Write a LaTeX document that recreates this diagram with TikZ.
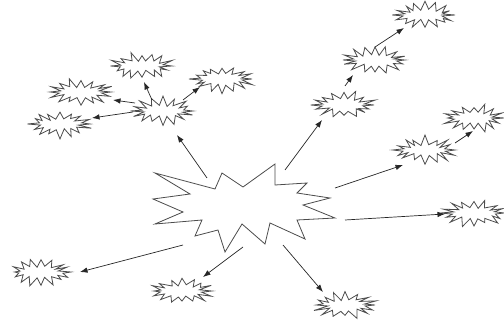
\documentclass[tikz,border=0pt]{standalone}
\usetikzlibrary{calc,arrows.meta}
\tikzset{
  burstline/.style={draw=black!70,line width=0.8pt,line join=miter,fill=white},
  spot/.style={inner sep=0pt,minimum size=0pt},
  arr/.style={draw=black!85,line width=0.7pt,-{Latex[length=7.5pt,width=5.5pt]}},
  pics/burst/.style={code={
    \pgfmathsetmacro{\dummy}{0}
    \pgfmathsetseed{#1}
    \draw[burstline] (0:30 and 12) \foreach \i in {1,...,31}{
      -- ({\i*360/32}:{ifthenelse(mod(\i,2)==0,30,20)*(1+0.13*rand)} and {ifthenelse(mod(\i,2)==0,12.5,5.5)*(1+0.2*rand)})
    } -- cycle;
  }}
}
\begin{document}
\begin{tikzpicture}[x=1pt,y=-1pt]
\useasboundingbox (0,0) rectangle (504,323);
% central burst
\draw[burstline] (155,173) -- (215,189) -- (222,173) -- (243,187) -- (275,164) -- (275,185)
  -- (307,183) -- (297,193) -- (330,198) -- (303,205) -- (335,218) -- (297,220)
  -- (305,239) -- (270,223) -- (265,244) -- (242,224) -- (225,252) -- (218,230)
  -- (195,236) -- (202,220) -- (155,224) -- (183,212) -- (153,199) -- (190,194) -- cycle;
\node[spot] (big) at (243,205) {};
% small bursts
\node[spot] (H)  at (163,111) {}; \pic at (H)  {burst=3};
\node[spot] (T1) at (142,66)  {}; \pic at (T1) {burst=5};
\node[spot] (R1) at (222,79)  {}; \pic at (R1) {burst=7};
\node[spot] (L1) at (81,92)   {}; \pic at (L1) {burst=11};
\node[spot] (L2) at (60,124)  {}; \pic at (L2) {burst=13};
\node[spot] (C1) at (344,105) {}; \pic at (C1) {burst=17};
\node[spot] (C2) at (375,60)  {}; \pic at (C2) {burst=19};
\node[spot] (C3) at (425,15)  {}; \pic at (C3) {burst=23};
\node[spot] (D1) at (425,150) {}; \pic at (D1) {burst=29};
\node[spot] (D2) at (474,118) {}; \pic at (D2) {burst=31};
\node[spot] (E1) at (474,213) {}; \pic at (E1) {burst=37};
\node[spot] (B1) at (41,272)  {}; \pic at (B1) {burst=41};
\node[spot] (B2) at (182,291) {}; \pic at (B2) {burst=43};
\node[spot] (B3) at (345,305) {}; \pic at (B3) {burst=47};
% arrows
\draw[arr] ($(big)+(-36,-27)$) -- ($(H)+(14,24)$);
\draw[arr] ($(big)+(42,-35)$) -- ($(C1)+(-22,15)$);
\draw[arr] ($(C1)+(1,-19)$) -- ($(C2)+(-22,15)$);
\draw[arr] ($(C2)+(0,-13)$) -- ($(C3)+(-21,13)$);
\draw[arr] ($(big)+(92,-17)$) -- ($(D1)+(-22,15)$);
\draw[arr] ($(D1)+(30,-7)$) -- ($(D2)+(-1,13)$);
\draw[arr] ($(big)+(102,15)$) -- ($(E1)+(-29,1)$);
\draw[arr] ($(big)+(40,40)$) -- ($(B3)+(-22,-13)$);
\draw[arr] ($(big)+(0,42)$) -- ($(B2)+(21,-14)$);
\draw[arr] ($(big)+(-60,40)$) -- ($(B1)+(39,0)$);
\draw[arr] ($(H)+(-11,-11)$) -- ($(T1)+(2,16)$);
\draw[arr] ($(H)+(-28,-8)$) -- ($(L1)+(32,8)$);
\draw[arr] ($(H)+(-30,1)$) -- ($(L2)+(32,-6)$);
\draw[arr] ($(H)+(20,-11)$) -- ($(R1)+(-22,8)$);
\end{tikzpicture}
\end{document}
